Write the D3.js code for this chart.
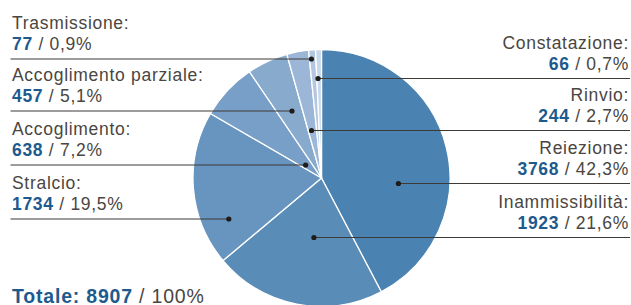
<!DOCTYPE html>
<html>
<head>
<meta charset="utf-8">
<script src="https://cdn.jsdelivr.net/npm/d3@7"></script>
<style>
  body { margin: 0; background: #fff; }
  svg { display: block; }
  text { font-family: "Liberation Sans", Arial, sans-serif; }
</style>
</head>
<body>
<svg id="chart" width="631" height="305"></svg>
<script>
// dati (ordine orario dalle ore 12)
const categories = ["Reiezione", "Inammissibilità", "Stralcio", "Accoglimento",
  "Accoglimento parziale", "Rinvio", "Trasmissione", "Constatazione"];
const counts = [3768, 1923, 1734, 638, 457, 244, 77, 66];
const percents = ["42,3%", "21,6%", "19,5%", "7,2%", "5,1%", "2,7%", "0,9%", "0,7%"];
const total = 8907;
const colors = ["#4a83b1", "#5a8cb8", "#6895c0", "#789fc7", "#88aacd", "#9bb6d6", "#b3c8e0", "#c8d7ea"];

// posizione etichette: lato, y della linea, punto dentro la fetta (frazione angolo)
const labelSide = ["right", "right", "left", "left", "left", "right", "left", "right"];
const lineY = [183.5, 237.5, 219, 165, 111, 130.5, 59, 78.5];
const dotT = [0.62, 0.45, 0.23, 0.36, 0.56, 0.38, 0.3, 0.25];

const W = 631, H = 305;
const cx = 321.5, cy = 178, R = 128.5;

const svg = d3.select("#chart");

const pie = d3.pie().sort(null).value((d) => d);
const arcs = pie(counts);
const arc = d3.arc().innerRadius(0).outerRadius(R);

const g = svg.append("g").attr("transform", `translate(${cx},${cy})`);

g.selectAll("path")
  .data(arcs)
  .join("path")
  .attr("d", arc)
  .attr("fill", (d, i) => colors[i])
  .attr("stroke", "#fff")
  .attr("stroke-width", 1.3)
  .attr("stroke-linejoin", "round");

// punti e linee guida
arcs.forEach((a, i) => {
  const ang = a.startAngle + dotT[i] * (a.endAngle - a.startAngle);
  const dy = lineY[i] - cy;
  // raggio scelto in modo che il punto stia sulla linea orizzontale
  const c = -Math.cos(ang);
  let x;
  if (Math.abs(c) > 0.15) {
    x = cx + (dy / c) * Math.sin(ang);
  } else {
    x = cx + Math.sign(Math.sin(ang)) * Math.sqrt(Math.max(0, (R * 0.6) ** 2 - dy * dy));
  }
  const x2 = labelSide[i] === "left" ? 10.5 : 630;
  svg.append("line")
    .attr("x1", x).attr("y1", lineY[i])
    .attr("x2", x2).attr("y2", lineY[i])
    .attr("stroke", "#3e3a36")
    .attr("stroke-width", 1.2);
  svg.append("circle")
    .attr("cx", x).attr("cy", lineY[i])
    .attr("r", 2.6)
    .attr("fill", "#1e1b18");
});

// testi
const fs = 17.5;
categories.forEach((name, i) => {
  const left = labelSide[i] === "left";
  const tx = left ? 12 : 629;
  const anchor = left ? "start" : "end";
  svg.append("text")
    .attr("x", tx).attr("y", lineY[i] - 30)
    .attr("text-anchor", anchor)
    .attr("font-size", fs)
    .attr("letter-spacing", 0.7)
    .attr("fill", "#4a4641")
    .text(name + ":");
  const t = svg.append("text")
    .attr("x", tx).attr("y", lineY[i] - 9)
    .attr("text-anchor", anchor)
    .attr("font-size", fs)
    .attr("letter-spacing", 0.7)
    .attr("fill", "#4a4641");
  t.append("tspan").attr("font-weight", "bold").attr("fill", "#1d5a8e").text(counts[i]);
  t.append("tspan").text(" / " + percents[i]);
});

const tot = svg.append("text")
  .attr("x", 12).attr("y", 302.5)
  .attr("font-size", 19.5)
  .attr("letter-spacing", 0.8)
  .attr("fill", "#4a4641");
tot.append("tspan").attr("font-weight", "bold").attr("fill", "#1d5a8e").text("Totale: " + total);
tot.append("tspan").text(" / 100%");
</script>
</body>
</html>
